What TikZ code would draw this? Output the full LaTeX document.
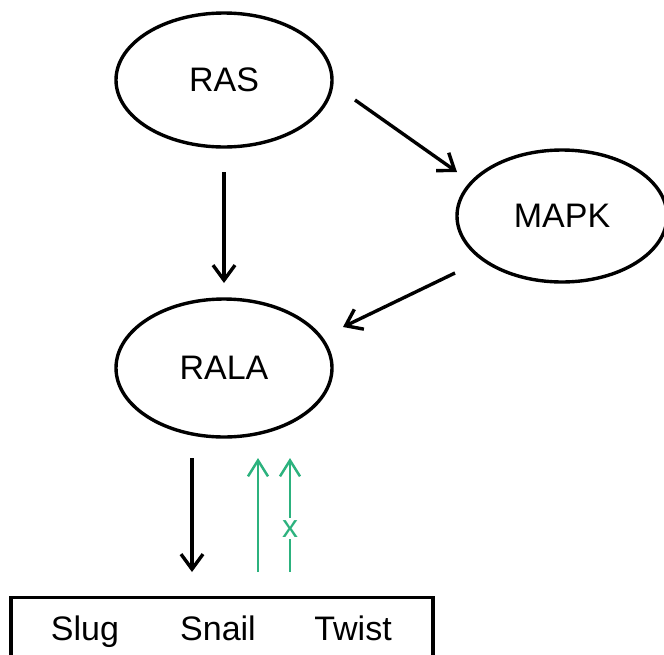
\documentclass[tikz,border=0pt]{standalone}
\usepackage{fontspec}
\setmainfont{Liberation Sans}
\usetikzlibrary{shapes.geometric,arrows.meta}
\definecolor{tfgreen}{RGB}{44,178,126}
\tikzset{
  blob/.style={ellipse, draw=black, line width=3.4pt, minimum width=216pt, minimum height=134pt, inner sep=0pt,
    font=\fontsize{34}{40}\selectfont},
  lbl/.style={anchor=base, inner sep=0pt, font=\fontsize{34}{40}\selectfont},
  blackarr/.style={line width=3.4pt, -{Straight Barb[length=15pt,width=22pt,line width=3.4pt]}},
  greenarr/.style={tfgreen, line width=2.5pt, -{Straight Barb[length=16pt,width=20pt,line width=2.5pt]}},
}
\begin{document}
\begin{tikzpicture}[x=1pt,y=-1pt]
\useasboundingbox (0,0) rectangle (664,654);

% signalling nodes
\node[blob] (ras) at (224,80) {RAS};
\node[blob, minimum width=210pt, minimum height=132pt] (mapk) at (562,216) {MAPK};
\node[blob, minimum height=138pt] (rala) at (224,368) {RALA};

% box of transcription factors (runs past the lower edge)
\node[draw=black, line width=3.4pt, minimum width=422pt, minimum height=100pt, inner sep=0pt, anchor=north] (tf) at (222,596) {};
\node[lbl] (slug) at (85,640) {Slug};
\node[lbl] (snail) at (218,640) {Snail};
\node[lbl] (twist) at (353,640) {Twist};

% activation arrows
\draw[blackarr] ([shift={(0,92)}]ras.center) -- ([shift={(0,-85)}]rala.center);
\draw[blackarr] ([shift={(131,20)}]ras.center) -- ([shift={(-105,-44)}]mapk.center);
\draw[blackarr] ([shift={(-107,57)}]mapk.center) -- ([shift={(119,-41)}]rala.center);
\draw[blackarr] ([shift={(-32,90)}]rala.center) -- ([shift={(-30,-24)}]tf.north);

% feedback arrows
\draw[greenarr] ([shift={(36,-24)}]tf.north) -- ([shift={(34,90)}]rala.center);
\draw[greenarr] ([shift={(68,-24)}]tf.north) -- node[pos=0.38, fill=white, inner sep=2pt, text=tfgreen,
  font=\fontsize{32}{36}\selectfont] (cut) {x} ([shift={(66,90)}]rala.center);
\end{tikzpicture}
\end{document}
